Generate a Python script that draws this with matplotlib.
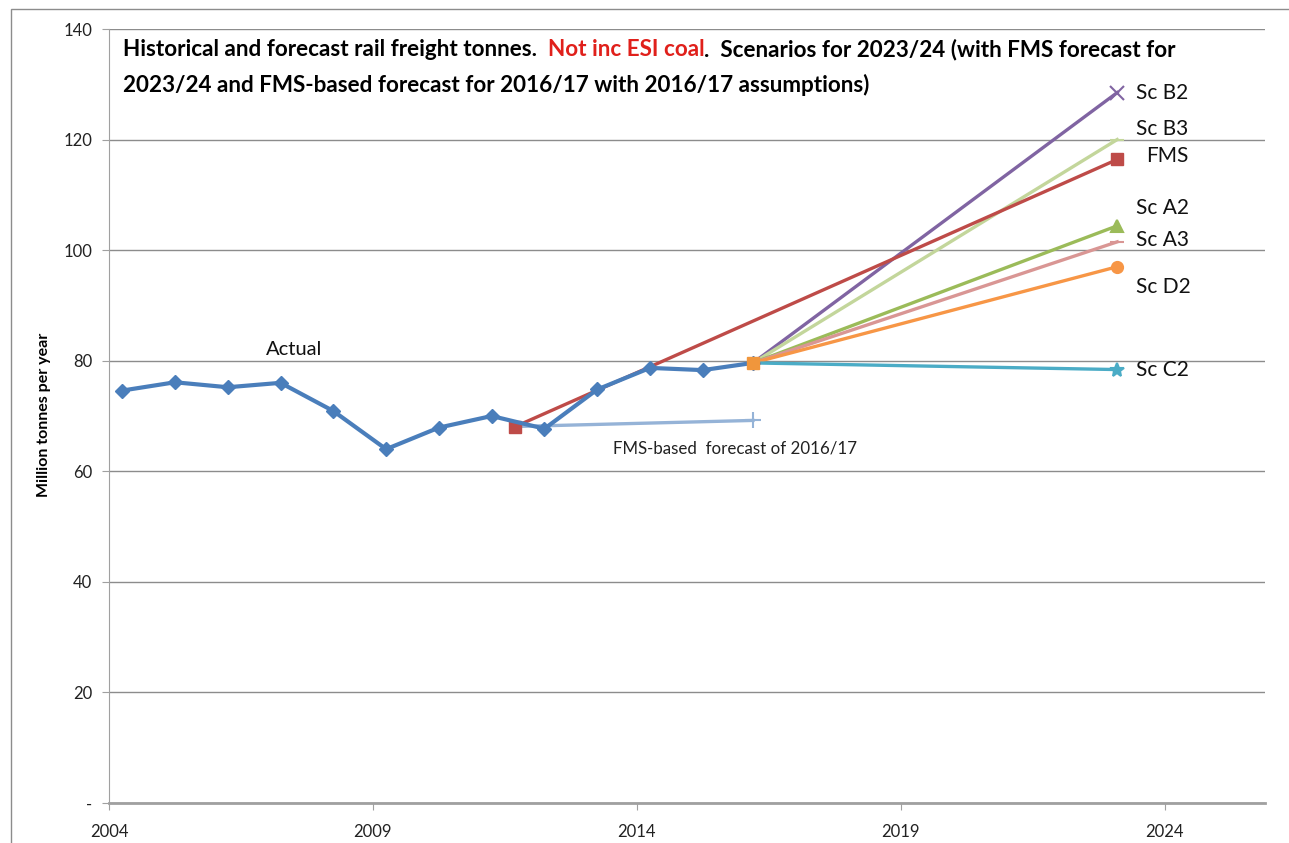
import matplotlib.pyplot as plt
from matplotlib.patches import Rectangle

# financial years plotted at April of the start year
actual_x = [2004.25, 2005.25, 2006.25, 2007.25, 2008.25, 2009.25, 2010.25,
            2011.25, 2012.25, 2013.25, 2014.25, 2015.25, 2016.2]
actual_y = [74.6, 76.1, 75.2, 76.0, 70.9, 64.0, 67.9, 70.0, 67.7, 74.8, 78.7, 78.3, 79.6]

fms_based_x = [2011.7, 2016.2]
fms_based_y = [68.1, 69.2]

fms_x = [2011.7, 2023.1]
fms_y = [68.1, 116.4]

start_x = 2016.2
start_y = 79.6
end_x = 2023.1
scenario_names = ['Sc B2', 'Sc B3', 'Sc A2', 'Sc A3', 'Sc D2', 'Sc C2']
scenario_end = [128.5, 120.0, 104.4, 101.5, 97.0, 78.4]
scenario_colors = ['#8064A2', '#C3D69B', '#9BBB59', '#D99694', '#F79646', '#4BACC6']
scenario_markers = ['x', '_', '^', '_', 'o', '*']
# y values for the end labels
label_y = {'Sc B2': 128.5, 'Sc B3': 122.0, 'FMS': 117.0, 'Sc A2': 107.7,
           'Sc A3': 101.9, 'Sc D2': 93.4, 'Sc C2': 78.4}

plt.rcParams['font.family'] = ['Lato', 'DejaVu Sans']

fig = plt.figure(figsize=(12.89, 8.43), dpi=100)
fig.patches.append(Rectangle((11 / 1289, -0.1), 1.2, 1 - 9 / 843 + 0.1,
                             transform=fig.transFigure, fill=False,
                             edgecolor='#8C8C8C', linewidth=1.0))
ax = fig.add_axes([109 / 1289, 40 / 843, (1265 - 109) / 1289, (803 - 29) / 843])

ax.set_xlim(2004, 2025.9)
ax.set_ylim(0, 140)
ax.set_yticks(range(0, 141, 20))
ax.set_yticklabels(['-'] + [str(v) for v in range(20, 141, 20)])
ax.set_xticks(range(2004, 2025, 5))
ax.grid(axis='y', color='#8C8C8C', linewidth=1.0)
ax.set_axisbelow(True)
for s in ['top', 'right']:
    ax.spines[s].set_visible(False)
ax.spines['left'].set_color('#A0A0A0')
ax.spines['bottom'].set_color('#A0A0A0')
ax.spines['bottom'].set_linewidth(2.0)
ax.tick_params(axis='both', colors='#A0A0A0', length=5, labelcolor='#222222')
ax.tick_params(axis='y', labelsize=12, pad=7)
ax.tick_params(axis='x', labelsize=12, pad=10)
fig.text(44 / 1289, 1 - 415 / 843, 'Million tonnes per year', rotation=90,
         fontsize=11.5, fontweight='bold', ha='center', va='center')

# scenarios from 2016/17
for name, yend, c, m in zip(scenario_names, scenario_end, scenario_colors, scenario_markers):
    ms = 10 if m in ('x', '_', '*') else 8
    ax.plot([start_x, end_x], [start_y, yend], color=c, linewidth=2.4,
            marker=m, markevery=[1], markersize=ms, markeredgewidth=1.5)

ax.plot(fms_based_x, fms_based_y, color='#95B3D7', linewidth=2.4,
        marker='+', markevery=[1], markersize=12, markeredgewidth=1.5)
ax.plot(fms_x, fms_y, color='#BE4B48', linewidth=2.4, marker='s', markersize=8)
ax.plot(actual_x, actual_y, color='#4A7EBB', linewidth=3, marker='D', markersize=7.5)
ax.plot([start_x], [start_y], color='#F0963C', marker='s', markersize=9, linestyle='none')

for name, yv in label_y.items():
    xo = 2023.45 if name != 'FMS' else 2023.65
    ax.text(xo, yv, name, fontsize=15, va='center', ha='left', color='#111111')

ax.text(2007.5, 82, 'Actual', fontsize=14.5, ha='center', va='center', color='#111111')
ax.text(2015.85, 64.2, 'FMS-based  forecast of 2016/17', fontsize=12.2,
        ha='center', va='center', color='#222222')

# title text in three pieces to colour the middle part
t1 = ax.text(0.012, 0.974, 'Historical and forecast rail freight tonnes.  ',
             transform=ax.transAxes, fontsize=16.2, fontweight='bold', va='center')
fig.canvas.draw()
t2 = ax.annotate('Not inc ESI coal', xycoords=t1, xy=(1, 0.5), va='center',
                 fontsize=16.2, fontweight='bold', color='#E0201B')
t3 = ax.annotate('.  Scenarios for 2023/24 (with FMS forecast for', xycoords=t2,
                 xy=(1, 0.5), va='center', fontsize=16.2, fontweight='bold')
ax.text(0.012, 0.928, '2023/24 and FMS-based forecast for 2016/17 with 2016/17 assumptions)',
        transform=ax.transAxes, fontsize=16.2, fontweight='bold', va='center')

fig.savefig('out.png', dpi=100)
